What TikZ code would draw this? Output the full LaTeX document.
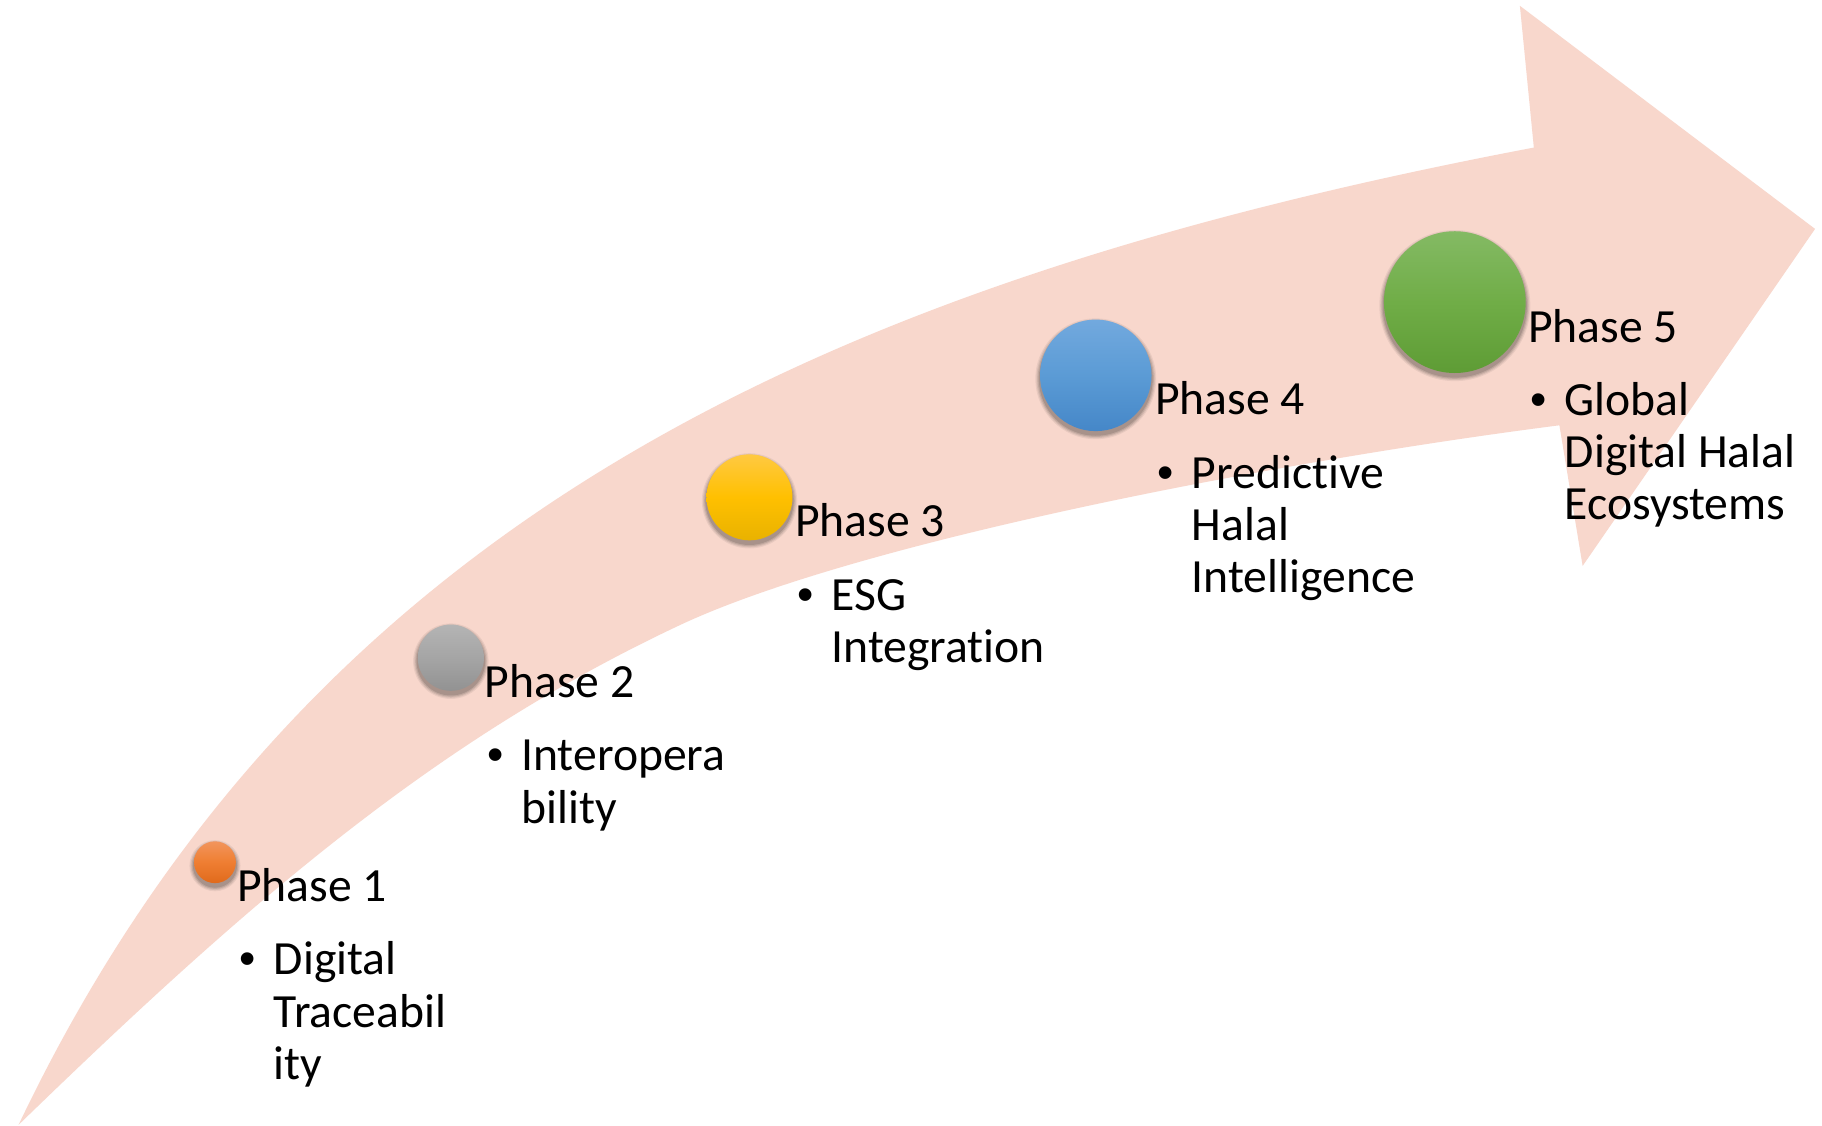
\documentclass[tikz,border=0pt]{standalone}
\usepackage{fontspec}
\setmainfont{Carlito}[Ligatures=NoCommon]
\newfontfamily\bulletfont{Liberation Sans}
\definecolor{arrowpink}{HTML}{F8D7CC}
\definecolor{orT}{HTML}{F2955C}\definecolor{orM}{HTML}{EF7E32}\definecolor{orB}{HTML}{E06A1C}
\definecolor{grT}{HTML}{B4B4B4}\definecolor{grM}{HTML}{A5A5A5}\definecolor{grB}{HTML}{929292}
\definecolor{yeT}{HTML}{FFC942}\definecolor{yeM}{HTML}{FFC000}\definecolor{yeB}{HTML}{E9B200}
\definecolor{blT}{HTML}{72A9DE}\definecolor{blM}{HTML}{5B9BD5}\definecolor{blB}{HTML}{4587C8}
\definecolor{gnT}{HTML}{84BA64}\definecolor{gnM}{HTML}{70AD47}\definecolor{gnB}{HTML}{5E9C35}
\newcommand{\ballshadow}[3]{%
  \foreach \dd/\op in {4/0.06,3/0.08,2/0.10,1/0.12}{\fill[black,opacity=\op] (#1,#2+3) circle ({#3+\dd});}%
}
\begin{document}
\begin{tikzpicture}[x=1pt,y=-1pt,
  lbl/.style={inner sep=0pt, anchor=base west, font=\fontsize{41}{46}\selectfont},
  bul/.style={inner sep=0pt, anchor=base, font=\bulletfont\fontsize{40}{45}\selectfont},
  ball/.style={circle, inner sep=0pt, draw=none}]
\useasboundingbox (0,0) rectangle (1568,969);
\fill[white] (0,0) rectangle (1568,969);
% curved arrow
\fill[arrowpink] (16,968) .. controls (266,443) and (720,241) .. (1320,127)
  -- (1308,5) -- (1562,197) -- (1362,487) -- (1342,366)
  .. controls (1092,398) and (735,467.5) .. (585,538)
  .. controls (375,636.7) and (216,774) .. (16,968) -- cycle;
% balls
\ballshadow{185}{742}{18}
\node[ball, minimum size=36pt, top color=orT, bottom color=orB, middle color=orM] (c1) at (185,742) {};
\ballshadow{388}{566}{28.5}
\node[ball, minimum size=57pt, top color=grT, bottom color=grB, middle color=grM] (c2) at (388,566) {};
\ballshadow{645}{428}{37}
\node[ball, minimum size=74pt, top color=yeT, bottom color=yeB, middle color=yeM] (c3) at (645,428) {};
\ballshadow{943}{323}{48}
\node[ball, minimum size=96pt, top color=blT, bottom color=blB, middle color=blM] (c4) at (943,323) {};
\ballshadow{1252}{260}{61}
\node[ball, minimum size=122pt, top color=gnT, bottom color=gnB, middle color=gnM] (c5) at (1252,260) {};
% Phase 1
\node[lbl] (h1) at (204,776) {Phase 1};
\node[bul] (b1) at (213.5,839) {•};
\node[lbl] (t1a) at (235.5,839) {Digital};
\node[lbl] (t1b) at (235.5,884) {Traceabil};
\node[lbl] (t1c) at (235.5,929) {ity};
% Phase 2
\node[lbl] (h2) at (417,600.5) {Phase 2};
\node[bul] (b2) at (426.5,663.5) {•};
\node[lbl] (t2a) at (448.5,663.5) {Interopera};
\node[lbl] (t2b) at (448.5,708.5) {bility};
% Phase 3
\node[lbl] (h3) at (684,462) {Phase 3};
\node[bul] (b3) at (693.5,525) {•};
\node[lbl] (t3a) at (715.5,525) {ESG};
\node[lbl] (t3b) at (715.5,570) {Integration};
% Phase 4
\node[lbl] (h4) at (994,357) {Phase 4};
\node[bul] (b4) at (1003.5,420) {•};
\node[lbl] (t4a) at (1025.5,420) {Predictive};
\node[lbl] (t4b) at (1025.5,465) {Halal};
\node[lbl] (t4c) at (1025.5,510) {Intelligence};
% Phase 5
\node[lbl] (h5) at (1315,294.5) {Phase 5};
\node[bul] (b5) at (1324.5,357.5) {•};
\node[lbl] (t5a) at (1346.5,357.5) {Global};
\node[lbl] (t5b) at (1346.5,402.5) {Digital Halal};
\node[lbl] (t5c) at (1346.5,447.5) {Ecosystems};
\end{tikzpicture}
\end{document}
